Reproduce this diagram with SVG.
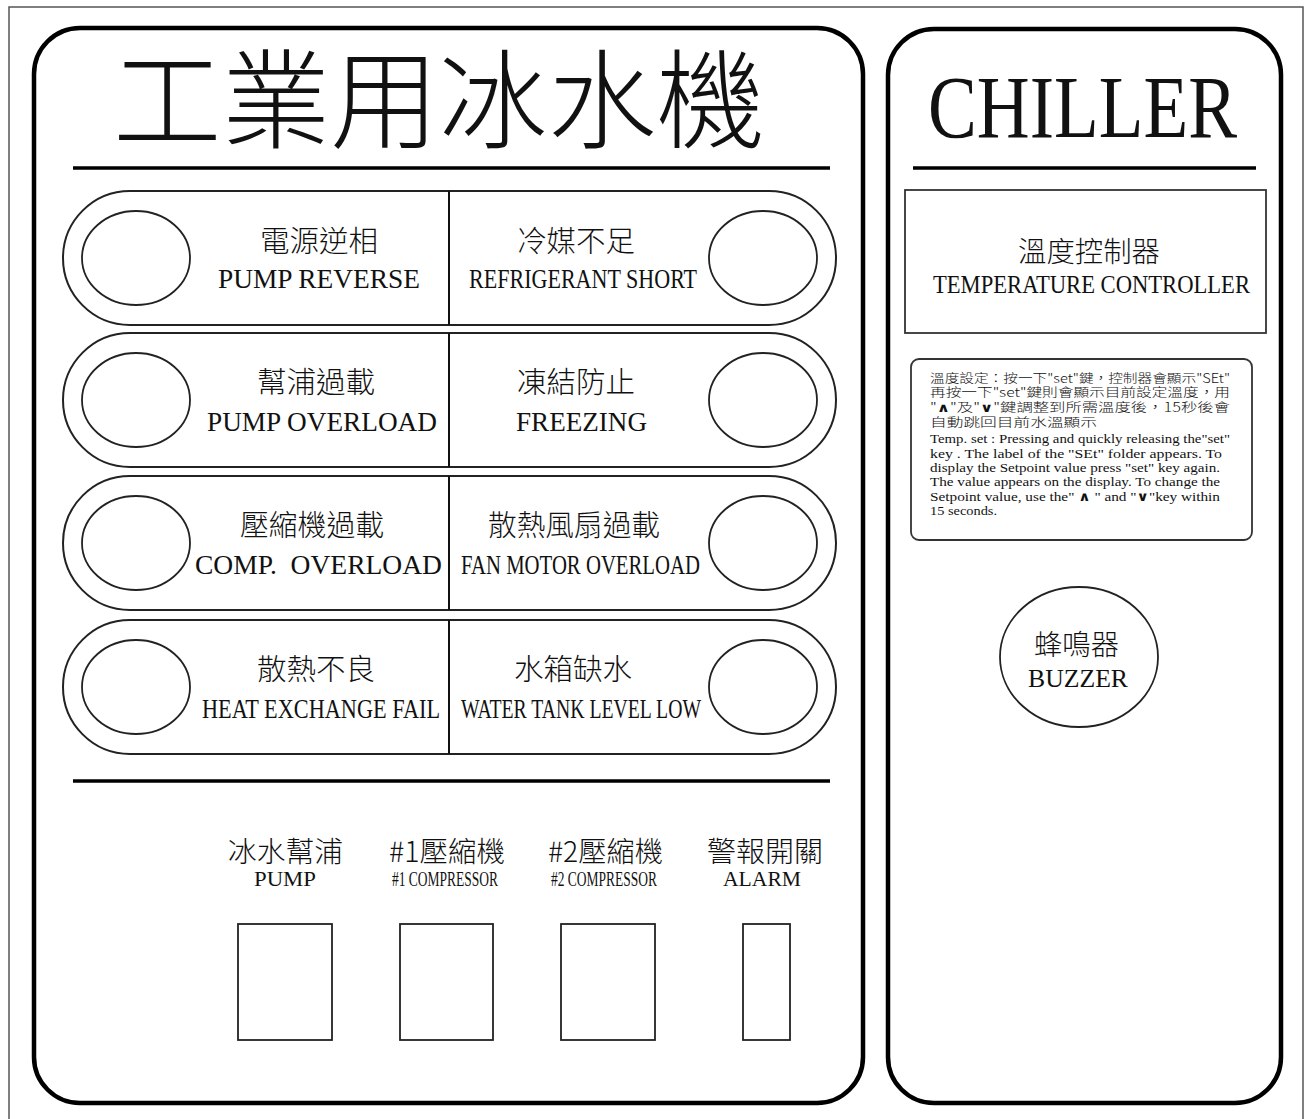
<svg xmlns="http://www.w3.org/2000/svg" width="1308" height="1119" viewBox="0 0 1308 1119">
<style>
.zh{font-family:"Noto Sans CJK TC","Noto Sans CJK SC",sans-serif;fill:#111;font-weight:300}
.en{font-family:"Liberation Serif","DejaVu Serif",serif;fill:#111}
.panel{fill:none;stroke:#000;stroke-width:4.5}
.pill{fill:#fff;stroke:#222;stroke-width:2}
.lamp{fill:#fff;stroke:#222;stroke-width:1.8}
.div{stroke:#111;stroke-width:2}
.rule{stroke:#000;stroke-width:3.5}
.sw{fill:#fff;stroke:#222;stroke-width:1.8}
.nz{font-family:"Noto Sans CJK TC","Noto Sans CJK SC",sans-serif;font-size:12.5px}
.ne{font-family:"Liberation Serif","DejaVu Serif",serif;font-size:13px}
.b{font-family:"DejaVu Sans",sans-serif;font-weight:bold}
</style>
<rect x="0" y="0" width="1308" height="1119" fill="#fff"/>
<rect x="9" y="7" width="1294" height="1125" fill="none" stroke="#555" stroke-width="1.5"/>

<g id="left-panel">
<rect class="panel" x="34" y="28" width="829" height="1075" rx="46"/>
<text class="zh" x="113" y="140" font-size="108" textLength="652" lengthAdjust="spacingAndGlyphs" font-weight="200">工業用冰水機</text>
<line class="rule" x1="73" y1="168" x2="830" y2="168"/>
<line class="rule" x1="73" y1="781" x2="830" y2="781" stroke-width="3"/>
</g>

<g id="row1" transform="translate(0,258)">
<rect class="pill" x="63" y="-67" width="773" height="134" rx="67"/>
<ellipse class="lamp" cx="136" cy="0" rx="54" ry="47"/>
<ellipse class="lamp" cx="763" cy="0" rx="54" ry="47"/>
<line class="div" x1="449" y1="-67" x2="449" y2="67"/>
<text class="zh" x="260" y="-6" font-size="29" textLength="118" lengthAdjust="spacingAndGlyphs">電源逆相</text>
<text class="en" x="218" y="30" font-size="27" textLength="202" lengthAdjust="spacingAndGlyphs">PUMP REVERSE</text>
<text class="zh" x="517" y="-6" font-size="29" textLength="118" lengthAdjust="spacingAndGlyphs">冷媒不足</text>
<text class="en" x="469" y="30" font-size="27" textLength="228" lengthAdjust="spacingAndGlyphs">REFRIGERANT SHORT</text>
</g>

<g id="row2" transform="translate(0,400)">
<rect class="pill" x="63" y="-67" width="773" height="134" rx="67"/>
<ellipse class="lamp" cx="136" cy="0" rx="54" ry="47"/>
<ellipse class="lamp" cx="763" cy="0" rx="54" ry="47"/>
<line class="div" x1="449" y1="-67" x2="449" y2="67"/>
<text class="zh" x="257" y="-7" font-size="29" textLength="118" lengthAdjust="spacingAndGlyphs">幫浦過載</text>
<text class="en" x="207" y="31" font-size="27" textLength="230" lengthAdjust="spacingAndGlyphs">PUMP OVERLOAD</text>
<text class="zh" x="517" y="-7" font-size="29" textLength="118" lengthAdjust="spacingAndGlyphs">凍結防止</text>
<text class="en" x="516" y="31" font-size="27" textLength="131" lengthAdjust="spacingAndGlyphs">FREEZING</text>
</g>

<g id="row3" transform="translate(0,543)">
<rect class="pill" x="63" y="-67" width="773" height="134" rx="67"/>
<ellipse class="lamp" cx="136" cy="0" rx="54" ry="47"/>
<ellipse class="lamp" cx="763" cy="0" rx="54" ry="47"/>
<line class="div" x1="449" y1="-67" x2="449" y2="67"/>
<text class="zh" x="240" y="-7" font-size="29" textLength="144" lengthAdjust="spacingAndGlyphs">壓縮機過載</text>
<text class="en" x="195" y="31" font-size="27" textLength="247" lengthAdjust="spacingAndGlyphs" xml:space="preserve">COMP.  OVERLOAD</text>
<text class="zh" x="488" y="-7" font-size="29" textLength="172" lengthAdjust="spacingAndGlyphs">散熱風扇過載</text>
<text class="en" x="461" y="31" font-size="27" textLength="239" lengthAdjust="spacingAndGlyphs">FAN MOTOR OVERLOAD</text>
</g>

<g id="row4" transform="translate(0,687)">
<rect class="pill" x="63" y="-67" width="773" height="134" rx="67"/>
<ellipse class="lamp" cx="136" cy="0" rx="54" ry="47"/>
<ellipse class="lamp" cx="763" cy="0" rx="54" ry="47"/>
<line class="div" x1="449" y1="-67" x2="449" y2="67"/>
<text class="zh" x="257" y="-7" font-size="29" textLength="118" lengthAdjust="spacingAndGlyphs">散熱不良</text>
<text class="en" x="202" y="31" font-size="27" textLength="238" lengthAdjust="spacingAndGlyphs">HEAT EXCHANGE FAIL</text>
<text class="zh" x="514" y="-7" font-size="29" textLength="118" lengthAdjust="spacingAndGlyphs">水箱缺水</text>
<text class="en" x="461" y="31" font-size="27" textLength="240" lengthAdjust="spacingAndGlyphs">WATER TANK LEVEL LOW</text>
</g>

<g id="switch-pump">
<text class="zh" x="228" y="862" font-size="28" textLength="115" lengthAdjust="spacingAndGlyphs">冰水幫浦</text>
<text class="en" x="254" y="886" font-size="21" textLength="62" lengthAdjust="spacingAndGlyphs">PUMP</text>
<rect class="sw" x="238" y="924" width="94" height="116"/>
</g>
<g id="switch-comp1">
<text class="zh" x="389" y="862" font-size="28" textLength="116" lengthAdjust="spacingAndGlyphs">#1壓縮機</text>
<text class="en" x="392" y="886" font-size="21" textLength="106" lengthAdjust="spacingAndGlyphs">#1 COMPRESSOR</text>
<rect class="sw" x="400" y="924" width="93" height="116"/>
</g>
<g id="switch-comp2">
<text class="zh" x="548" y="862" font-size="28" textLength="115" lengthAdjust="spacingAndGlyphs">#2壓縮機</text>
<text class="en" x="551" y="886" font-size="21" textLength="106" lengthAdjust="spacingAndGlyphs">#2 COMPRESSOR</text>
<rect class="sw" x="561" y="924" width="94" height="116"/>
</g>
<g id="switch-alarm">
<text class="zh" x="707" y="862" font-size="28" textLength="116" lengthAdjust="spacingAndGlyphs">警報開關</text>
<text class="en" x="723" y="886" font-size="21" textLength="78" lengthAdjust="spacingAndGlyphs">ALARM</text>
<rect class="sw" x="743" y="924" width="47" height="116"/>
</g>

<g id="right-panel">
<rect class="panel" x="888" y="29" width="393" height="1074" rx="46"/>
<text class="en" x="928" y="137" font-size="89" textLength="309" lengthAdjust="spacingAndGlyphs">CHILLER</text>
<line class="rule" x1="913" y1="168" x2="1256" y2="168"/>
</g>

<g id="temp-controller">
<rect x="905" y="190" width="361" height="143" fill="#fff" stroke="#333" stroke-width="1.8"/>
<text class="zh" x="1018" y="262" font-size="28" textLength="142" lengthAdjust="spacingAndGlyphs">溫度控制器</text>
<text class="en" x="933" y="293" font-size="25" textLength="317" lengthAdjust="spacingAndGlyphs">TEMPERATURE CONTROLLER</text>
</g>

<g id="note">
<rect x="911" y="359" width="341" height="181" rx="8" fill="#fff" stroke="#333" stroke-width="1.8"/>
<text fill="#111" font-weight="300"><tspan class="nz" x="930" y="383" textLength="300" lengthAdjust="spacingAndGlyphs">溫度設定：按一下"set"鍵，控制器會顯示"SEt"</tspan><tspan class="nz" x="930" y="397" textLength="300" lengthAdjust="spacingAndGlyphs">再按一下"set"鍵則會顯示目前設定溫度，用</tspan><tspan class="nz" x="930" y="412" textLength="300" lengthAdjust="spacingAndGlyphs">"<tspan class="b">∧</tspan>"及"<tspan class="b">∨</tspan>"鍵調整到所需溫度後，15秒後會</tspan><tspan class="nz" x="930" y="427" textLength="167" lengthAdjust="spacingAndGlyphs">自動跳回目前水溫顯示</tspan><tspan class="ne" font-weight="400" x="930" y="443" textLength="300" lengthAdjust="spacingAndGlyphs">Temp. set : Pressing and quickly releasing the"set"</tspan><tspan class="ne" font-weight="400" x="930" y="458" textLength="292" lengthAdjust="spacingAndGlyphs">key . The label of the "SEt" folder appears. To</tspan><tspan class="ne" font-weight="400" x="930" y="472" textLength="290" lengthAdjust="spacingAndGlyphs">display the Setpoint value press "set" key again.</tspan><tspan class="ne" font-weight="400" x="930" y="486" textLength="290" lengthAdjust="spacingAndGlyphs">The value appears on the display. To change the</tspan><tspan class="ne" font-weight="400" x="930" y="501" textLength="290" lengthAdjust="spacingAndGlyphs">Setpoint value, use the" <tspan class="b">∧</tspan> " and "<tspan class="b">∨</tspan>"key within</tspan><tspan class="ne" font-weight="400" x="930" y="515" textLength="67" lengthAdjust="spacingAndGlyphs">15 seconds.</tspan></text>
</g>

<g id="buzzer">
<ellipse cx="1079" cy="657" rx="79" ry="70" fill="#fff" stroke="#222" stroke-width="1.8"/>
<text class="zh" x="1034" y="655" font-size="28" textLength="85" lengthAdjust="spacingAndGlyphs">蜂鳴器</text>
<text class="en" x="1028" y="687" font-size="26" textLength="100" lengthAdjust="spacingAndGlyphs">BUZZER</text>
</g>

<g id="connectors"></g>
</svg>
